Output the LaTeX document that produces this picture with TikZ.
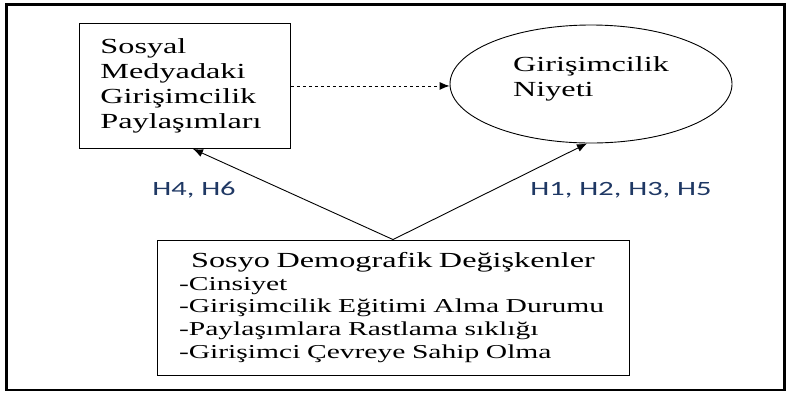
\documentclass[tikz,border=0pt]{standalone}
\usepackage{fontspec}
\setmainfont{Liberation Serif}[FakeStretch=1.5]
\newfontfamily\serwide{Liberation Serif}[FakeStretch=1.5]
\newfontfamily\hypfont{Carlito}[FakeStretch=1.5]
\usepackage{tikz}
\usetikzlibrary{shapes.geometric,arrows.meta}
\definecolor{hypblue}{RGB}{31,56,100}
\tikzset{
  >= {Latex[length=10bp,width=8bp]},
  bx/.style={rectangle, draw, line width=0.9bp, inner sep=0pt},
  el/.style={ellipse, draw, line width=0.9bp, inner sep=0pt, align=left},
  hy/.style={font=\hypfont\fontsize{20.3bp}{24bp}\selectfont, text=hypblue},
  bigtxt/.style={font=\serwide\fontsize{21.5bp}{25bp}\selectfont},
  smalltxt/.style={font=\serwide\fontsize{19.7bp}{22.7bp}\selectfont}
}

\begin{document}
\begin{tikzpicture}[x=1bp, y=-1bp]
  \useasboundingbox (0,0) rectangle (788,395);
  \draw[line width=2.6bp] (6.5,4.5) rectangle (784.5,390);

  \node[bx, bigtxt, anchor=north west, minimum width=211bp, minimum height=125bp,
        text width=169bp, align=left, inner xsep=21bp]
    (paylasim) at (79,23) {Sosyal\\Medyadaki\\Girişimcilik\\Paylaşımları};

  \node[el, bigtxt, minimum width=282bp, minimum height=118bp, text depth=15bp]
    (niyet) at (591,84) {Girişimcilik\\Niyeti};

  \node[bx, smalltxt, minimum width=472bp, minimum height=135bp,
        text width=428bp, align=left, inner xsep=22bp]
    (demo) at (393,307.5)
    {{\fontsize{21.5bp}{25bp}\selectfont\makebox[428bp][c]{Sosyo Demografik Değişkenler}}\\
     -Cinsiyet\\
     -Girişimcilik Eğitimi Alma Durumu\\
     -Paylaşımlara Rastlama sıklığı\\
     -Girişimci Çevreye Sahip Olma};

  \node[hy] (hdort) at (194,190) {H4, H6};
  \node[hy] (hbir) at (621,190) {H1, H2, H3, H5};

  \draw[->, dashed, line width=0.9bp] (paylasim.east) -- (paylasim.east -| niyet.west);
  \draw[->, line width=0.9bp] (demo.north) -- ([xshift=8bp]paylasim.south);
  \draw[->, line width=0.9bp] (demo.north) -- ([xshift=-4bp]niyet.south);
\end{tikzpicture}
\end{document}
